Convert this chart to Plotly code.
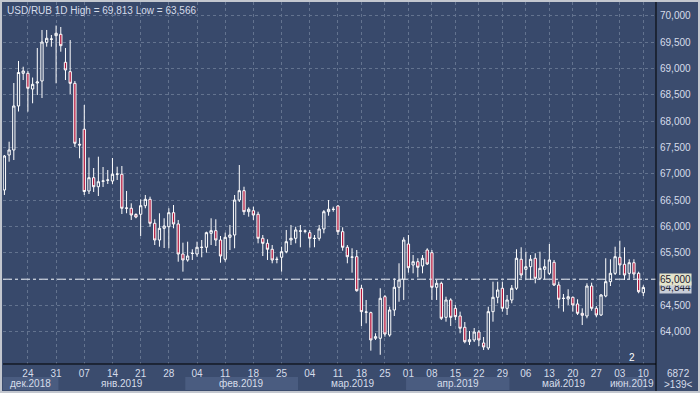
import pandas as pd
import plotly.graph_objects as go

# ---------------- data (USD/RUB daily OHLC) ----------------
opens = [66.693, 67.357, 67.452, 68.287, 68.907, 68.907, 68.609, 68.723, 68.761, 69.495,
         69.552, 69.621, 69.647, 69.116, 68.938, 68.717, 67.560, 67.845, 66.674, 66.926,
         66.755, 66.858, 66.877, 66.864, 66.991, 66.991, 66.346, 66.346, 66.228, 66.232,
         66.395, 66.516, 66.061, 65.744, 65.966, 65.996, 66.262, 66.048, 65.478, 65.365,
         65.488, 65.478, 65.602, 65.606, 65.871, 65.921, 65.744, 65.378, 65.795, 65.839,
         66.503, 66.680, 66.281, 66.300, 66.232, 65.776, 65.681, 65.568, 65.374, 65.416,
         65.522, 65.744, 65.776, 65.911, 65.915, 65.883, 65.772, 65.776, 65.953, 66.281,
         66.323, 66.389, 65.902, 65.606, 65.416, 65.427, 64.828, 64.372, 64.365, 63.879,
         63.879, 64.668, 63.941, 64.416, 64.847, 64.998, 65.668, 65.270, 65.332, 65.251,
         65.554, 65.503, 64.847, 64.922, 64.277, 64.606, 64.448, 64.302, 64.088, 63.814,
         63.847, 63.998, 63.790, 63.695, 64.384, 64.657, 64.828, 64.448, 64.606, 64.828,
         65.378, 65.188, 65.237, 65.397, 65.017, 65.188, 65.112, 65.321, 64.890, 64.634,
         64.625, 64.657, 64.530, 64.353, 64.302, 64.871, 64.448, 64.321, 64.681, 64.953,
         65.112, 65.416, 65.283, 65.112, 65.313, 65.112, 64.744]
highs = [67.357, 67.609, 68.723, 69.141, 69.032, 68.951, 68.827, 69.387, 69.729, 69.729,
         69.634, 69.813, 69.786, 69.387, 69.539, 68.761, 67.679, 68.306, 67.309, 67.110,
         67.325, 67.129, 67.072, 67.300, 67.135, 67.148, 66.674, 66.440, 66.251, 66.516,
         66.598, 66.566, 66.137, 66.251, 66.156, 66.346, 66.408, 66.124, 65.693, 65.712,
         65.568, 65.712, 65.744, 65.902, 66.156, 66.137, 65.820, 65.883, 66.029, 66.598,
         67.167, 66.755, 66.364, 66.376, 66.281, 65.839, 65.757, 65.649, 65.427, 65.617,
         65.934, 66.029, 65.996, 66.029, 65.943, 65.934, 65.839, 66.029, 66.313, 66.503,
         66.376, 66.408, 65.985, 65.649, 65.587, 65.554, 64.890, 64.606, 64.384, 63.974,
         64.828, 64.700, 64.478, 65.017, 65.302, 65.795, 65.839, 65.459, 65.397, 65.459,
         65.587, 65.554, 64.985, 64.953, 64.668, 64.638, 64.511, 64.384, 64.188, 64.017,
         64.074, 64.036, 63.903, 64.478, 64.953, 64.953, 64.953, 64.700, 64.890, 65.568,
         65.606, 65.522, 65.459, 65.492, 65.522, 65.378, 65.668, 65.365, 64.953, 64.719,
         64.809, 64.668, 64.619, 64.448, 64.922, 64.934, 64.492, 64.719, 65.397, 65.378,
         65.617, 65.731, 65.606, 65.378, 65.378, 65.143, 64.884]
lows = [66.598, 67.230, 67.262, 68.182, 68.780, 68.179, 68.338, 68.495, 68.438, 69.412,
        69.412, 68.717, 69.317, 68.780, 68.514, 67.509, 67.294, 66.598, 66.617, 66.655,
        66.579, 66.750, 66.807, 66.807, 66.883, 66.237, 66.251, 66.124, 66.156, 65.820,
        66.346, 65.996, 65.649, 65.617, 65.592, 65.587, 65.966, 65.332, 65.143, 65.332,
        65.365, 65.427, 65.416, 65.503, 65.649, 65.630, 65.313, 65.332, 65.554, 65.587,
        66.465, 66.218, 66.186, 66.124, 65.681, 65.440, 65.365, 65.302, 65.302, 65.143,
        65.492, 65.649, 65.681, 65.606, 65.871, 65.598, 65.606, 65.731, 65.871, 66.205,
        66.281, 65.839, 65.541, 65.302, 65.124, 64.763, 64.112, 64.163, 63.644, 63.847,
        63.566, 63.909, 63.909, 64.302, 64.573, 64.606, 65.124, 65.112, 65.036, 65.112,
        65.270, 64.606, 64.606, 64.226, 64.194, 64.112, 64.226, 63.974, 63.784, 63.752,
        63.808, 63.733, 63.657, 63.657, 64.194, 64.543, 64.384, 64.321, 64.543, 64.795,
        65.017, 64.998, 64.985, 64.922, 64.985, 64.998, 65.080, 64.871, 64.448, 64.384,
        64.511, 64.384, 64.321, 64.131, 64.258, 64.402, 64.277, 64.302, 64.657, 64.871,
        65.080, 65.080, 64.985, 64.998, 65.017, 64.733, 64.681]
closes = [67.338, 67.452, 68.287, 68.922, 68.951, 68.623, 68.698, 68.742, 69.501, 69.571,
          69.558, 69.666, 69.431, 68.970, 68.717, 67.579, 67.547, 66.664, 66.926, 66.755,
          66.850, 66.864, 66.883, 66.991, 66.996, 66.346, 66.351, 66.218, 66.180, 66.395,
          66.516, 66.061, 65.744, 65.966, 66.010, 66.262, 66.048, 65.478, 65.365, 65.440,
          65.492, 65.606, 65.606, 65.883, 65.921, 65.744, 65.440, 65.795, 65.839, 66.503,
          66.680, 66.281, 66.327, 66.218, 65.776, 65.681, 65.568, 65.365, 65.378, 65.522,
          65.712, 65.776, 65.934, 65.915, 65.911, 65.776, 65.776, 65.953, 66.281, 66.327,
          66.327, 65.902, 65.606, 65.427, 65.421, 64.782, 64.384, 64.378, 63.847, 63.909,
          64.638, 63.960, 64.416, 64.847, 64.985, 65.744, 65.218, 65.332, 65.226, 65.397,
          65.289, 64.847, 64.922, 64.258, 64.606, 64.277, 64.289, 64.069, 63.814, 63.852,
          63.998, 63.847, 63.714, 64.384, 64.657, 64.795, 64.448, 64.606, 64.828, 65.397,
          65.080, 65.237, 65.378, 65.017, 65.207, 65.237, 65.365, 64.890, 64.619, 64.638,
          64.668, 64.511, 64.353, 64.315, 64.871, 64.448, 64.321, 64.700, 64.953, 65.112,
          65.427, 65.270, 65.080, 65.313, 65.099, 64.763, 64.844]

first_day = "2018-12-18"
last_day = "2019-06-10"
last_sunday_session = "2019-03-10"      # the feed printed Sunday bars until this date

y_ticks = [64.0, 64.5, 65.0, 65.5, 66.0, 66.5, 67.0, 67.5, 68.0, 68.5, 69.0, 69.5, 70.0]
month_names = {12: "дек.", 1: "янв.", 2: "фев.", 3: "мар.", 4: "апр.", 5: "май.", 6: "июн."}
title_text = "USD/RUB 1D High = 69,813 Low = 63,566"
level_line = 65.0
last_price = 64.844
corner_top = "6872"
corner_bottom = ">139<"
marker_text = "2"

# ---------------- derived categories ----------------
days = pd.date_range(first_day, last_day, freq="D")
cut = pd.Timestamp(last_sunday_session)
sessions = [d for d in days if d.weekday() < 5 or (d.weekday() == 6 and d <= cut)]
x = [d.strftime("%Y-%m-%d") for d in sessions]
n = min(len(x), len(opens))
x = x[:n]

mondays = [i for i, d in enumerate(sessions[:n]) if d.weekday() == 0]
tickvals = [x[i] for i in mondays]
ticktext = [sessions[i].strftime("%d") for i in mondays]

def fmt(v):
    return f"{v:.3f}".replace(".", ",")

# ---------------- colours ----------------
BG = "#38496b"
AXBG = "#3b4c6e"
BAND = "#4a5c80"
GRID = "#63738f"
TXT = "#d6dcea"
RED = "#b3173d"
FONT = "Liberation Sans, Arial, sans-serif"
FS = 10

fig = go.Figure()
fig.add_trace(go.Candlestick(
    x=x, open=opens[:n], high=highs[:n], low=lows[:n], close=closes[:n],
    increasing=dict(line=dict(color="#ffffff", width=1), fillcolor=BG),
    decreasing=dict(line=dict(color="#ffffff", width=1), fillcolor=RED),
    whiskerwidth=0, showlegend=False, hoverinfo="x+y",
))

shapes = []
months = []
for i, d in enumerate(sessions[:n]):
    key = (d.year, d.month)
    if not months or months[-1][0] != key:
        months.append([key, i, i])
    else:
        months[-1][2] = i
PLOT_H = 362.0
def py(px_below):
    return -px_below / PLOT_H
for k, (key, i0, i1) in enumerate(months):
    if k % 2 == 0:
        shapes.append(dict(type="rect", xref="x", yref="paper",
                           x0=i0 - 0.5, x1=min(i1 + 0.5, 138.7), y0=py(26), y1=py(13),
                           fillcolor=BAND, line=dict(width=0), layer="below"))
shapes.append(dict(type="line", xref="paper", yref="y", x0=0, x1=1,
                   y0=level_line, y1=level_line,
                   line=dict(color="#e8ecf4", width=1, dash="dashdot")))
shapes.append(dict(type="line", xref="paper", yref="paper", x0=1, x1=1, y0=py(27), y1=1.01,
                   line=dict(color="#000000", width=1)))
shapes.append(dict(type="line", xref="paper", yref="paper", x0=0, x1=1, y0=0, y1=0,
                   line=dict(color="#000000", width=1)))
shapes.append(dict(type="rect", xref="paper", yref="paper",
                   x0=-2 / 653, x1=696 / 653, y0=py(28), y1=1 + 1 / PLOT_H,
                   line=dict(color="#c3c7cf", width=2)))

annotations = []
annotations.append(dict(text=title_text, xref="paper", yref="paper", x=0.003, y=0.997,
                        xanchor="left", yanchor="top", showarrow=False,
                        font=dict(family=FONT, size=FS, color=TXT)))
for key, i0, i1 in months:
    yr, mo = key
    annotations.append(dict(text=f"{month_names[mo]}{yr}", xref="x", yref="paper",
                            x=(i0 + i1) / 2, y=py(19.5), xanchor="center", yanchor="middle",
                            showarrow=False, font=dict(family=FONT, size=FS, color=TXT)))
annotations.append(dict(text=fmt(last_price), xref="paper", yref="y", x=1.004, y=last_price,
                        xanchor="left", yanchor="middle", showarrow=False, bgcolor="#c9ced8",
                        borderpad=0, font=dict(family=FONT, size=FS, color="#1c2030")))
annotations.append(dict(text=fmt(level_line), xref="paper", yref="y", x=1.004, y=level_line,
                        xanchor="left", yanchor="middle", showarrow=False, bgcolor="#e4e4cc",
                        borderpad=0, font=dict(family=FONT, size=FS, color="#1c2030")))
annotations.append(dict(text=corner_top, xref="paper", yref="paper", x=1.0345, y=py(9),
                        xanchor="center", yanchor="middle", showarrow=False,
                        font=dict(family=FONT, size=FS, color=TXT)))
annotations.append(dict(text=corner_bottom, xref="paper", yref="paper", x=1.0345, y=py(20),
                        xanchor="center", yanchor="middle", showarrow=False,
                        font=dict(family=FONT, size=FS, color=TXT)))
annotations.append(dict(text=marker_text, xref="paper", yref="paper", x=0.963, y=0.017,
                        xanchor="center", yanchor="middle", showarrow=False,
                        font=dict(family=FONT, size=FS, color="#ffffff")))

fig.update_layout(
    width=700, height=393,
    margin=dict(l=3, r=44, t=2, b=29),
    paper_bgcolor=AXBG, plot_bgcolor=BG,
    shapes=shapes, annotations=annotations,
    showlegend=False,
    xaxis=dict(type="category", range=[-0.3, 138.7], rangeslider=dict(visible=False),
               tickmode="array", tickvals=tickvals, ticktext=ticktext,
               showgrid=True, gridcolor=GRID, griddash="3px,3px", gridwidth=1,
               ticks="", showline=False, zeroline=False, ticklabelstandoff=2,
               tickfont=dict(family=FONT, size=FS, color=TXT)),
    yaxis=dict(side="right", range=[63.391, 70.260],
               tickmode="array", tickvals=y_ticks, ticktext=[fmt(v) for v in y_ticks],
               showgrid=True, gridcolor=GRID, griddash="3px,3px", gridwidth=1,
               ticks="", showline=False, zeroline=False, ticklabelstandoff=3,
               tickfont=dict(family=FONT, size=FS, color=TXT)),
    hovermode=False,
)

fig.write_html("out.html", config={"displayModeBar": False},
               post_script="document.body.style.margin='0';document.body.style.overflow='hidden';")
